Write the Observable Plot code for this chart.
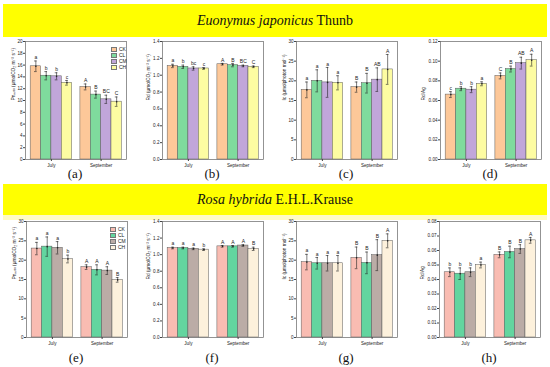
<!DOCTYPE html>
<html>
<head>
<meta charset="utf-8">
<script src="https://cdn.jsdelivr.net/npm/d3@7"></script>
<script src="https://cdn.jsdelivr.net/npm/@observablehq/plot@0.6"></script>
<style>
  html, body { margin: 0; padding: 0; background: #fff; }
  #root { position: relative; width: 550px; height: 367px; overflow: hidden; background: #fff; }
  .banner { position: absolute; left: 3px; width: 544px; background: #ffff00; text-align: center;
    font-family: "Liberation Serif", "Times New Roman", serif; font-size: 14px; color: #111; }
  .sub { position: absolute; width: 40px; margin-left: -20px; text-align: center;
    font-family: "Liberation Serif", "Times New Roman", serif; font-size: 13px; color: #111; }
  .panel { position: absolute; }
  .legend { position: absolute; font-family: "Liberation Sans", Arial, sans-serif; font-size: 5px; color: #222; }
  .legend div { height: 6px; line-height: 5px; display: flex; align-items: center; }
  .legend span.sw { display: inline-block; width: 6px; height: 5px; border: 0.5px solid #777; margin-right: 2px; box-sizing: border-box; }
</style>
</head>
<body>
<div id="root"></div>
<script>
// ---------- data ----------
const months = ["July", "September"];
const treatments = ["CK", "CL", "CM", "CH"];

// Euonymus japonicus Thunb (order: July CK,CL,CM,CH, September CK,CL,CM,CH)
const euPn     = [15.8, 14.2, 14.1, 13.0, 12.3, 11.0, 10.2, 9.8];
const euPnErr  = [0.9, 0.7, 0.6, 0.4, 0.5, 0.6, 0.7, 0.8];
const euPnSig  = ["a", "b", "b", "c", "A", "B", "BC", "C"];
const euRd     = [1.11, 1.10, 1.08, 1.08, 1.13, 1.12, 1.11, 1.10];
const euRdErr  = [0.02, 0.02, 0.02, 0.01, 0.01, 0.02, 0.01, 0.01];
const euRdSig  = ["a", "b", "bc", "c", "A", "B", "BC", "C"];
const euIc     = [17.7, 20.0, 19.6, 19.5, 18.4, 19.4, 20.3, 22.9];
const euIcErr  = [2.0, 2.8, 3.8, 1.8, 1.3, 2.5, 3.0, 3.8];
const euIcSig  = ["a", "a", "a", "a", "B", "B", "AB", "A"];
const euRa     = [0.066, 0.072, 0.071, 0.077, 0.085, 0.092, 0.098, 0.101];
const euRaErr  = [0.003, 0.002, 0.003, 0.002, 0.003, 0.003, 0.006, 0.006];
const euRaSig  = ["c", "b", "b", "a", "C", "B", "AB", "A"];

// Rosa hybrida E.H.L.Krause
const roPn     = [23.0, 23.5, 23.2, 20.3, 18.2, 17.5, 17.3, 14.9];
const roPnErr  = [1.6, 2.5, 1.6, 1.0, 0.6, 1.3, 1.0, 0.6];
const roPnSig  = ["a", "a", "a", "b", "A", "A", "A", "B"];
const roRd     = [1.08, 1.08, 1.07, 1.06, 1.10, 1.10, 1.11, 1.07];
const roRdErr  = [0.01, 0.01, 0.01, 0.01, 0.01, 0.01, 0.01, 0.02];
const roRdSig  = ["a", "a", "a", "b", "A", "A", "A", "B"];
const roIc     = [19.5, 19.2, 19.2, 19.2, 20.6, 19.3, 21.3, 25.0];
const roIcErr  = [2.0, 1.5, 2.0, 2.0, 2.8, 2.8, 4.0, 1.8];
const roIcSig  = ["a", "a", "a", "a", "B", "B", "B", "A"];
const roRa     = [0.045, 0.044, 0.045, 0.050, 0.057, 0.059, 0.061, 0.067];
const roRaErr  = [0.003, 0.004, 0.003, 0.002, 0.002, 0.004, 0.003, 0.002];
const roRaSig  = ["b", "b", "b", "a", "B", "B", "B", "A"];

const colorsTop    = ["#fdc899", "#7fdb9d", "#c1a6da", "#fdfca2"];
const colorsBottom = ["#f9bcb2", "#63d59f", "#bbaca6", "#fdf1dc"];

const labelPn = "Pnₘₐₓ (μmolCO₂ m⁻² s⁻¹)";
const labelRd = "Rd (μmolCO₂ m⁻² s⁻¹)";
const labelIc = "Ic (μmolphoton mol⁻¹)";
const labelRa = "Rd/Ag";

// ---------- layout ----------
const root = document.getElementById("root");
function div(cls, style, html) {
  const d = document.createElement("div");
  d.className = cls; Object.assign(d.style, style); d.innerHTML = html || ""; root.appendChild(d); return d;
}

div("banner", {top: "4px", height: "33px", lineHeight: "33px"}, "<i>Euonymus japonicus</i> Thunb");
div("", {position: "absolute", left: "3px", top: "215px", width: "544px", height: "5px", background: "#fffbc4"});
div("banner", {top: "184px", height: "31px", lineHeight: "31px"}, "<i>Rosa hybrida</i> E.H.L.Krause");

const GAP = 4.8; // start index of September group
function rows(vals, errs, sigs) {
  return vals.map((v, i) => {
    const g = Math.floor(i / 4), t = i % 4;
    const pos = t + (g ? GAP : 0);
    return {month: months[g], trt: treatments[t], v, e: errs[i], s: sigs[i], x1: pos, x2: pos + 1, xc: pos + 0.5};
  });
}

function panel({left, top, vals, errs, sigs, colors, yMax, yStep, fmt, label, labelOffset}) {
  const data = rows(vals, errs, sigs);
  const mL = 28, mR = 6, mT = 6, mB = 22, iw = 101, ih = top > 100 ? 116 : 118;
  const ticks = d3.range(0, yMax + yStep / 2, yStep);
  const chart = Plot.plot({
    width: mL + iw + mR, height: mT + ih + mB,
    marginLeft: mL, marginRight: mR, marginTop: mT, marginBottom: mB,
    style: {fontSize: "4.6px", fontFamily: "Liberation Sans, Arial, sans-serif", background: "transparent", color: "#222"},
    x: {domain: [-0.5, 2 * 4 + GAP - 4 + 0.45]},
    y: {domain: [0, yMax]},
    color: {domain: treatments, range: colors},
    marks: [
      Plot.rectY(data, {x1: "x1", x2: "x2", y: "v", fill: "trt", stroke: "#5a5a5a", strokeWidth: 0.5}),
      Plot.ruleX(data, {x: "xc", y1: d => d.v - d.e, y2: d => d.v + d.e, stroke: "#222", strokeWidth: 0.6}),
      Plot.ruleY(data, {x1: d => d.xc - 0.13, x2: d => d.xc + 0.13, y: d => d.v + d.e, stroke: "#222", strokeWidth: 0.6}),
      Plot.ruleY(data, {x1: d => d.xc - 0.13, x2: d => d.xc + 0.13, y: d => d.v - d.e, stroke: "#222", strokeWidth: 0.6}),
      Plot.dot(data, {x: "xc", y: "v", r: 0.8, fill: "#222"}),
      Plot.text(data, {x: "xc", y: d => d.v + d.e, text: "s", dy: -3.5, fontSize: 5, fill: "#222"}),
      Plot.frame({stroke: "#666", strokeWidth: 0.7}),
      Plot.axisY({ticks, tickFormat: fmt, tickSize: 2, tickPadding: 1, label: null, stroke: "#444"}),
      Plot.text([label], {frameAnchor: "left", text: d => d, rotate: -90, dx: -labelOffset, fontSize: 4.8, fill: "#222"}),
      Plot.axisX({ticks: [2, GAP + 2], tickFormat: d => d < 4 ? months[0] : months[1], tickSize: 2, tickPadding: 2, label: null, stroke: "#444"})
    ]
  });
  const holder = div("panel", {left: (left - mL) + "px", top: (top - mT) + "px"});
  holder.appendChild(chart);
  return chart;
}

function legend(left, top, colors) {
  const l = div("legend", {left: left + "px", top: top + "px"});
  treatments.forEach((t, i) => {
    const r = document.createElement("div");
    r.innerHTML = `<span class="sw" style="background:${colors[i]}"></span>${t}`;
    l.appendChild(r);
  });
}

const f0 = d3.format("d"), f1 = d3.format(".1f"), f2 = d3.format(".2f");
const T = 41, B = 221;

panel({left: 25,  top: T, vals: euPn, errs: euPnErr, sigs: euPnSig, colors: colorsTop, yMax: 20, yStep: 2, fmt: f0, label: labelPn, labelOffset: 12});
panel({left: 162, top: T, vals: euRd, errs: euRdErr, sigs: euRdSig, colors: colorsTop, yMax: 1.4, yStep: 0.2, fmt: f1, label: labelRd, labelOffset: 14});
panel({left: 296, top: T, vals: euIc, errs: euIcErr, sigs: euIcSig, colors: colorsTop, yMax: 30, yStep: 5, fmt: f0, label: labelIc, labelOffset: 12});
panel({left: 440, top: T, vals: euRa, errs: euRaErr, sigs: euRaSig, colors: colorsTop, yMax: 0.12, yStep: 0.02, fmt: f2, label: labelRa, labelOffset: 17});

panel({left: 26,  top: B, vals: roPn, errs: roPnErr, sigs: roPnSig, colors: colorsBottom, yMax: 30, yStep: 5, fmt: f0, label: labelPn, labelOffset: 12});
panel({left: 162, top: B, vals: roRd, errs: roRdErr, sigs: roRdSig, colors: colorsBottom, yMax: 1.4, yStep: 0.2, fmt: f1, label: labelRd, labelOffset: 14});
panel({left: 296, top: B, vals: roIc, errs: roIcErr, sigs: roIcSig, colors: colorsBottom, yMax: 30, yStep: 5, fmt: f0, label: labelIc, labelOffset: 12});
panel({left: 439, top: B, vals: roRa, errs: roRaErr, sigs: roRaSig, colors: colorsBottom, yMax: 0.08, yStep: 0.01, fmt: f2, label: labelRa, labelOffset: 17});

legend(111, 46, colorsTop);
legend(110, 226, colorsBottom);

const subs = ["(a)", "(b)", "(c)", "(d)", "(e)", "(f)", "(g)", "(h)"];
const centers = [75, 212, 346, 490, 76, 212, 346, 489];
subs.forEach((s, i) => div("sub", {left: centers[i] + "px", top: (i < 4 ? 166 : 350) + "px"}, s));
</script>
</body>
</html>
